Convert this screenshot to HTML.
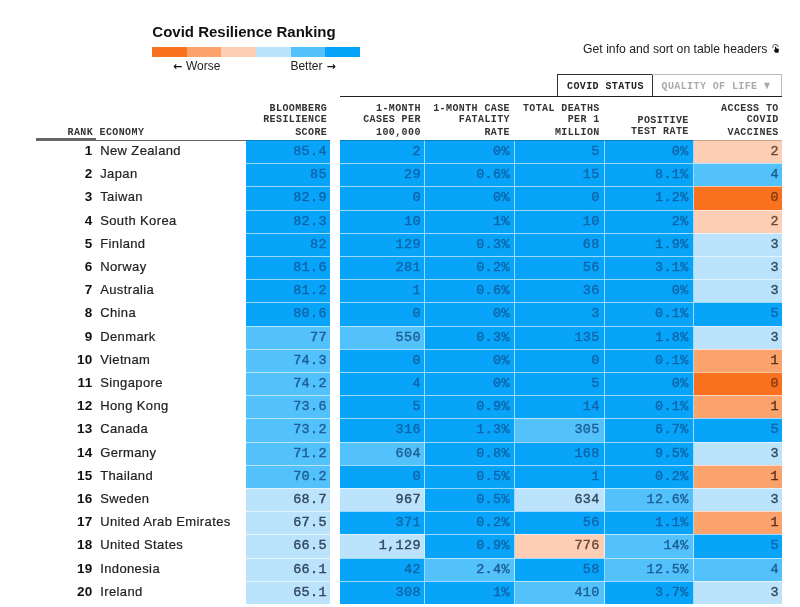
<!DOCTYPE html>
<html lang="en"><head><meta charset="utf-8"><title>Covid Resilience Ranking</title>
<style>
html,body{margin:0;padding:0;background:#fff;}
body{position:relative;width:800px;height:607px;overflow:hidden;font-family:"Liberation Sans",Arial,sans-serif;color:#111;}
.abs{position:absolute;white-space:nowrap;}
.title{left:152.3px;top:22.8px;font-size:15px;font-weight:bold;line-height:18px;color:#111;}
.legend{left:152px;top:47px;width:208px;height:10px;display:flex;}
.legend i{flex:1;display:block;height:10px;}
.lg{font-size:12px;line-height:14px;top:59px;color:#222;}
.ar{font-family:"DejaVu Sans","Liberation Sans",sans-serif;font-weight:bold;font-size:11px;line-height:14px;top:59.8px;color:#111;}
.info{right:32.6px;top:41.7px;font-size:12.2px;line-height:14px;color:#222;}
.mono{font-family:"Liberation Mono","DejaVu Sans Mono",monospace;font-weight:bold;font-size:10px;letter-spacing:.4px;line-height:10.44px;color:#333;transform:scaleY(1.13);transform-origin:0 100%;}
.tab{box-sizing:border-box;top:74px;height:23px;}
.tab1{left:557px;width:96px;border:1px solid #333;border-bottom:none;color:#222;}
.tab2{left:652px;width:130px;border:1px solid #bbb;border-left:none;border-bottom:none;color:#aaa;}
.hline{left:340px;top:96px;width:442px;height:1px;background:#222;}
.h{text-align:right;white-space:nowrap;}
.rkline{left:36px;top:138px;width:60px;height:3px;background:#666;}
.ecline{left:96px;top:140px;width:150px;height:1px;background:#666;}
.topline{left:246px;top:140px;width:84px;height:1px;background:rgba(0,0,0,.22);z-index:3;}
.topline2{left:340px;top:140px;width:442px;height:1px;background:rgba(0,0,0,.22);z-index:3;}
.row{position:absolute;left:0;width:800px;}
.rk{position:absolute;left:36px;width:56.6px;text-align:right;font-weight:bold;font-size:13.5px;letter-spacing:.35px;line-height:23px;color:#111;top:-.7px;}
.nm{position:absolute;left:100.2px;font-size:13px;letter-spacing:.38px;-webkit-text-stroke:.2px currentColor;line-height:23px;color:#222;top:-.7px;white-space:nowrap;}
.c{position:absolute;top:0;height:100%;box-sizing:border-box;text-align:right;font-family:"Liberation Mono","DejaVu Sans Mono",monospace;font-size:13.5px;letter-spacing:.3px;line-height:21.4px;border-top:1px solid rgba(255,255,255,.6);border-right:1px solid rgba(255,255,255,.6);-webkit-text-stroke:.4px currentColor;}
.r1 .c{border-top-color:transparent;}
.c0{left:246px;width:84px;padding-right:3.2px;border-right:none;}
.c1{left:340px;width:85px;padding-right:3.2px;}
.c2{left:425px;width:90px;padding-right:4.2px;}
.c3{left:515px;width:90px;padding-right:4.4px;}
.c4{left:605px;width:89px;padding-right:4.4px;}
.c5{left:694px;width:88px;padding-right:3.2px;border-right:none;}
.d{background:#08a4fa;color:#0c66aa;}
.m{background:#52c1fc;color:#1d5f96;}
.l{background:#bbe3fc;color:#33495f;}
.p{background:#fdceb3;color:#6b4a3c;}
.o{background:#fca26c;color:#5e3218;}
.O{background:#fa7220;color:#8a3a0c;}
</style></head>
<body>
<div class="abs title">Covid Resilience Ranking</div>
<div class="abs legend"><i style="background:#fa7220"></i><i style="background:#fca26c"></i><i style="background:#fdceb3"></i><i style="background:#bbe3fc"></i><i style="background:#52c1fc"></i><i style="background:#08a4fa"></i></div>
<div class="abs ar" style="left:173px">←</div><div class="abs lg" style="left:186px">Worse</div>
<div class="abs lg" style="left:290.4px">Better</div><div class="abs ar" style="left:326.6px">→</div>
<div class="abs info">Get info and sort on table headers</div>
<svg class="abs" style="left:772.2px;top:43.6px" width="7.8" height="9.5" viewBox="0 0 9 11"><path d="M1.2 4.6 A3 3 0 1 1 7 3.6" fill="none" stroke="#666" stroke-width="1.2"/><path d="M3.4 3.2 L3.4 7.2 L2.4 6.6 L2 7.4 L4 10 L7.4 10 L8 6.6 L7.4 5.4 L4.8 5 L4.8 3.2 Z" fill="#111"/></svg>
<div class="abs tab tab1"></div>
<div class="abs tab tab2"></div>
<div class="abs mono" style="left:567px;bottom:514.8px;color:#222">COVID STATUS</div>
<div class="abs mono" style="left:661.5px;bottom:514.8px;color:#aaa">QUALITY OF LIFE ▼</div>
<div class="abs hline"></div>
<div class="abs mono" style="left:67.5px;bottom:468.6px">RANK</div>
<div class="abs mono" style="left:99.5px;bottom:468.6px">ECONOMY</div>
<div class="abs mono h" style="right:472.8px;bottom:468.6px">BLOOMBERG<br>RESILIENCE<br>SCORE</div>
<div class="abs mono h" style="right:379.2px;bottom:468.6px">1-MONTH<br>CASES PER<br>100,000</div>
<div class="abs mono h" style="right:290px;bottom:468.6px">1-MONTH CASE<br>FATALITY<br>RATE</div>
<div class="abs mono h" style="right:200.3px;bottom:468.6px">TOTAL DEATHS<br>PER 1<br>MILLION</div>
<div class="abs mono h" style="right:111.3px;bottom:468.6px">POSITIVE<br>TEST RATE</div>
<div class="abs mono h" style="right:21.3px;bottom:468.6px">ACCESS TO<br>COVID<br>VACCINES</div>
<div class="abs rkline"></div>
<div class="abs ecline"></div>
<div class="abs topline"></div>
<div class="abs topline2"></div>
<div class="rows">
<div class="row r1" style="top:140px;height:23px"><span class="rk">1</span><span class="nm">New Zealand</span><span class="c c0 d">85.4</span><span class="c c1 d">2</span><span class="c c2 d">0%</span><span class="c c3 d">5</span><span class="c c4 d">0%</span><span class="c c5 p">2</span></div>
<div class="row" style="top:163px;height:23px"><span class="rk">2</span><span class="nm">Japan</span><span class="c c0 d">85</span><span class="c c1 d">29</span><span class="c c2 d">0.6%</span><span class="c c3 d">15</span><span class="c c4 d">8.1%</span><span class="c c5 m">4</span></div>
<div class="row" style="top:186px;height:24px"><span class="rk">3</span><span class="nm">Taiwan</span><span class="c c0 d">82.9</span><span class="c c1 d">0</span><span class="c c2 d">0%</span><span class="c c3 d">0</span><span class="c c4 d">1.2%</span><span class="c c5 O">0</span></div>
<div class="row" style="top:210px;height:23px"><span class="rk">4</span><span class="nm">South Korea</span><span class="c c0 d">82.3</span><span class="c c1 d">10</span><span class="c c2 d">1%</span><span class="c c3 d">10</span><span class="c c4 d">2%</span><span class="c c5 p">2</span></div>
<div class="row" style="top:233px;height:23px"><span class="rk">5</span><span class="nm">Finland</span><span class="c c0 d">82</span><span class="c c1 d">129</span><span class="c c2 d">0.3%</span><span class="c c3 d">68</span><span class="c c4 d">1.9%</span><span class="c c5 l">3</span></div>
<div class="row" style="top:256px;height:23px"><span class="rk">6</span><span class="nm">Norway</span><span class="c c0 d">81.6</span><span class="c c1 d">281</span><span class="c c2 d">0.2%</span><span class="c c3 d">56</span><span class="c c4 d">3.1%</span><span class="c c5 l">3</span></div>
<div class="row" style="top:279px;height:23px"><span class="rk">7</span><span class="nm">Australia</span><span class="c c0 d">81.2</span><span class="c c1 d">1</span><span class="c c2 d">0.6%</span><span class="c c3 d">36</span><span class="c c4 d">0%</span><span class="c c5 l">3</span></div>
<div class="row" style="top:302px;height:24px"><span class="rk">8</span><span class="nm">China</span><span class="c c0 d">80.6</span><span class="c c1 d">0</span><span class="c c2 d">0%</span><span class="c c3 d">3</span><span class="c c4 d">0.1%</span><span class="c c5 d">5</span></div>
<div class="row" style="top:326px;height:23px"><span class="rk">9</span><span class="nm">Denmark</span><span class="c c0 m">77</span><span class="c c1 m">550</span><span class="c c2 d">0.3%</span><span class="c c3 d">135</span><span class="c c4 d">1.8%</span><span class="c c5 l">3</span></div>
<div class="row" style="top:349px;height:23px"><span class="rk">10</span><span class="nm">Vietnam</span><span class="c c0 m">74.3</span><span class="c c1 d">0</span><span class="c c2 d">0%</span><span class="c c3 d">0</span><span class="c c4 d">0.1%</span><span class="c c5 o">1</span></div>
<div class="row" style="top:372px;height:23px"><span class="rk">11</span><span class="nm">Singapore</span><span class="c c0 m">74.2</span><span class="c c1 d">4</span><span class="c c2 d">0%</span><span class="c c3 d">5</span><span class="c c4 d">0%</span><span class="c c5 O">0</span></div>
<div class="row" style="top:395px;height:23px"><span class="rk">12</span><span class="nm">Hong Kong</span><span class="c c0 m">73.6</span><span class="c c1 d">5</span><span class="c c2 d">0.9%</span><span class="c c3 d">14</span><span class="c c4 d">0.1%</span><span class="c c5 o">1</span></div>
<div class="row" style="top:418px;height:24px"><span class="rk">13</span><span class="nm">Canada</span><span class="c c0 m">73.2</span><span class="c c1 d">316</span><span class="c c2 d">1.3%</span><span class="c c3 m">305</span><span class="c c4 d">6.7%</span><span class="c c5 d">5</span></div>
<div class="row" style="top:442px;height:23px"><span class="rk">14</span><span class="nm">Germany</span><span class="c c0 m">71.2</span><span class="c c1 m">604</span><span class="c c2 d">0.8%</span><span class="c c3 d">168</span><span class="c c4 d">9.5%</span><span class="c c5 l">3</span></div>
<div class="row" style="top:465px;height:23px"><span class="rk">15</span><span class="nm">Thailand</span><span class="c c0 m">70.2</span><span class="c c1 d">0</span><span class="c c2 d">0.5%</span><span class="c c3 d">1</span><span class="c c4 d">0.2%</span><span class="c c5 o">1</span></div>
<div class="row" style="top:488px;height:23px"><span class="rk">16</span><span class="nm">Sweden</span><span class="c c0 l">68.7</span><span class="c c1 l">967</span><span class="c c2 d">0.5%</span><span class="c c3 l">634</span><span class="c c4 m">12.6%</span><span class="c c5 l">3</span></div>
<div class="row" style="top:511px;height:23px"><span class="rk">17</span><span class="nm">United Arab Emirates</span><span class="c c0 l">67.5</span><span class="c c1 d">371</span><span class="c c2 d">0.2%</span><span class="c c3 d">56</span><span class="c c4 d">1.1%</span><span class="c c5 o">1</span></div>
<div class="row" style="top:534px;height:24px"><span class="rk">18</span><span class="nm">United States</span><span class="c c0 l">66.5</span><span class="c c1 l">1,129</span><span class="c c2 d">0.9%</span><span class="c c3 p">776</span><span class="c c4 m">14%</span><span class="c c5 d">5</span></div>
<div class="row" style="top:558px;height:23px"><span class="rk">19</span><span class="nm">Indonesia</span><span class="c c0 l">66.1</span><span class="c c1 d">42</span><span class="c c2 m">2.4%</span><span class="c c3 d">58</span><span class="c c4 m">12.5%</span><span class="c c5 m">4</span></div>
<div class="row" style="top:581px;height:23px"><span class="rk">20</span><span class="nm">Ireland</span><span class="c c0 l">65.1</span><span class="c c1 d">308</span><span class="c c2 d">1%</span><span class="c c3 m">410</span><span class="c c4 d">3.7%</span><span class="c c5 l">3</span></div>
</div>
</body></html>
